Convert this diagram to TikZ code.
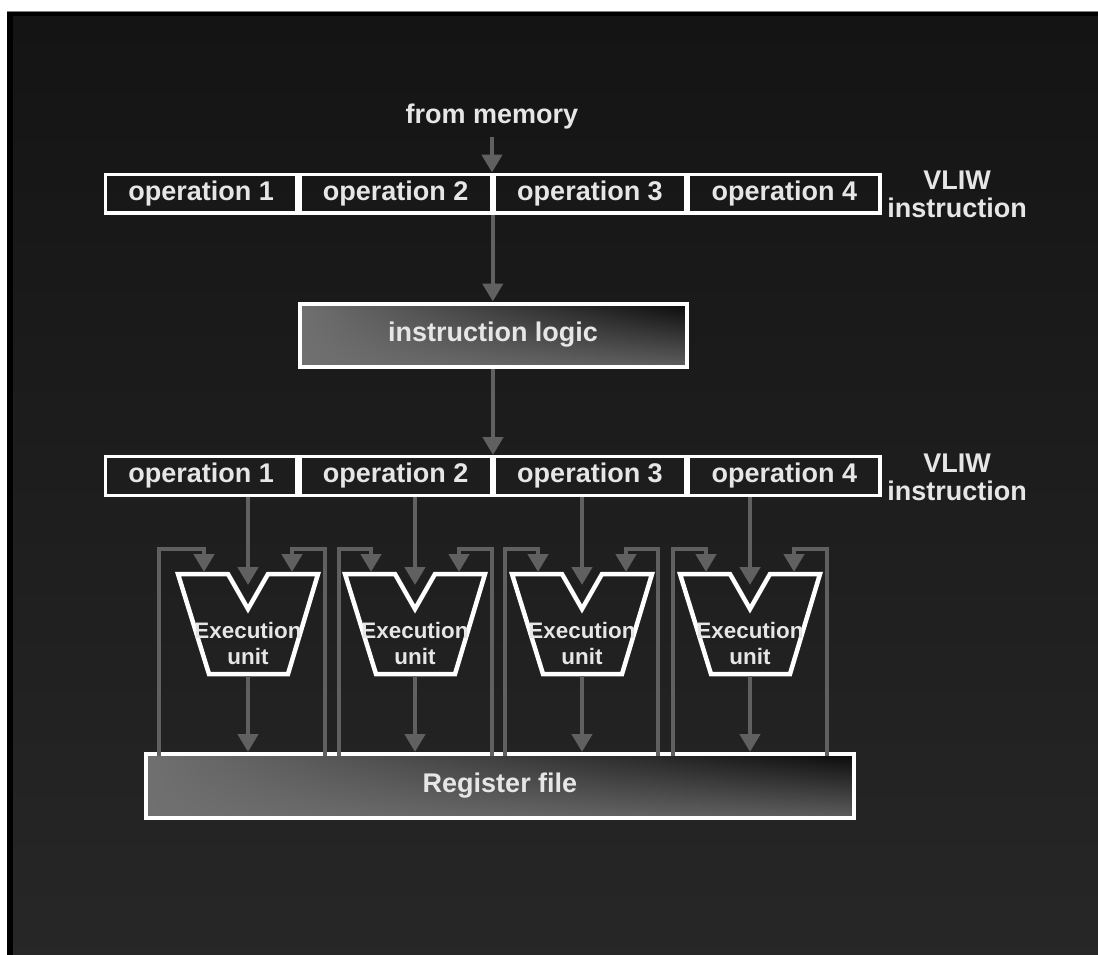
\documentclass[tikz,border=0pt]{standalone}
\usepackage{fontspec}
\setmainfont{Liberation Sans}
\usetikzlibrary{positioning,arrows.meta,shadings}
\definecolor{bgtop}{HTML}{141414}
\definecolor{bgbot}{HTML}{272727}
\definecolor{wiregray}{HTML}{606060}
\definecolor{txt}{HTML}{E6E6E6}
\definecolor{shlight}{HTML}{707070}
\definecolor{shdark}{HTML}{0A0A0A}
\definecolor{shmid}{HTML}{5E5E5E}
\tikzset{
  lbl/.style={text=txt,font=\fontsize{13.5}{14}\selectfont\bfseries,align=center},
  opbox/.style={lbl,draw=white,line width=1.6pt,minimum width=95.6pt,minimum height=19.4pt,inner sep=0pt},
  shbox/.style={lbl,draw=white,line width=2pt,shade,shading=bilinear interpolation,
    upper left=shlight,lower left=shlight,upper right=shdark,lower right=shmid},
  wire/.style={draw=wiregray,line width=2.25pt,line join=miter},
  arr/.style={wire,-{Triangle[width=10pt,length=9pt]}},
  eubox/.style={draw=white,line width=2.25pt,line join=miter},
}
\begin{document}
\begin{tikzpicture}[x=0.5pt,y=-0.5pt]
  \def\eu#1#2#3#4{
    \coordinate (v#1) at (#2,609);
    \coordinate (n#1) at (#2,585);
    \coordinate (o#1) at (#2,676);
    \coordinate (il#1) at (#2-44,572);
    \coordinate (ir#1) at (#2+44,572);
    \coordinate (ol#1) at (#3,549);
    \coordinate (or#1) at (#4,549);
    \draw[eubox] (#2-70,574) -- (#2-20,574) -- (v#1) -- (#2+20,574) -- (#2+70,574)
      -- (#2+40,674) -- (#2-39,674) -- cycle;
    \node[lbl,font=\fontsize{11.2}{13}\selectfont\bfseries] (e#1) at (#2,643) {Execution\\unit};
    \draw[arr] (b#1.south -| n#1) -- (n#1);
    \draw[arr] (o#1) -- (o#1 |- reg.north);
    \draw[arr] ([yshift=-2pt]reg.north -| ol#1) -- (ol#1) -| (il#1);
    \draw[arr] ([yshift=-2pt]reg.north -| or#1) -- (or#1) -| (ir#1);
  }
  \useasboundingbox (0,0) rectangle (1098,954);
  \fill[white] (-10,-10) rectangle (1110,970);
  \fill[black] (7,11) rectangle (1110,970);
  \shade[top color=bgtop,bottom color=bgbot] (13,16) rectangle (1110,970);
  \draw[gray,line width=0.5pt] (7,11) -- (1110,11);

  \node[lbl] (mem) at (492,117) {from memory};
  \node[opbox] (a1) at (201.2,193.5) {operation 1};
  \node[opbox,right=0pt of a1] (a2) {operation 2};
  \node[opbox,right=0pt of a2] (a3) {operation 3};
  \node[opbox,right=0pt of a3] (a4) {operation 4};
  \node[lbl] (vl1) at (957,194) {VLIW\\instruction};

  \node[shbox,minimum width=193.5pt,minimum height=31.5pt] (logic) at (493,335) {instruction logic};

  \node[opbox] (b1) at (201.2,476) {operation 1};
  \node[opbox,right=0pt of b1] (b2) {operation 2};
  \node[opbox,right=0pt of b2] (b3) {operation 3};
  \node[opbox,right=0pt of b3] (b4) {operation 4};
  \node[lbl] (vl2) at (957,477) {VLIW\\instruction};

  \node[shbox,minimum width=354pt,minimum height=32pt] (reg) at (500,786) {Register file};

  \draw[arr] (mem.south) -- (mem.south |- a2.north);
  \draw[arr] (a2.south east) -- (a2.south east |- logic.north);
  \draw[arr] (logic.south) -- (logic.south |- b2.north);

  \eu{1}{248}{159}{325}
  \eu{2}{415}{339}{492}
  \eu{3}{582}{505}{658}
  \eu{4}{750}{673}{827}
\end{tikzpicture}
\end{document}
